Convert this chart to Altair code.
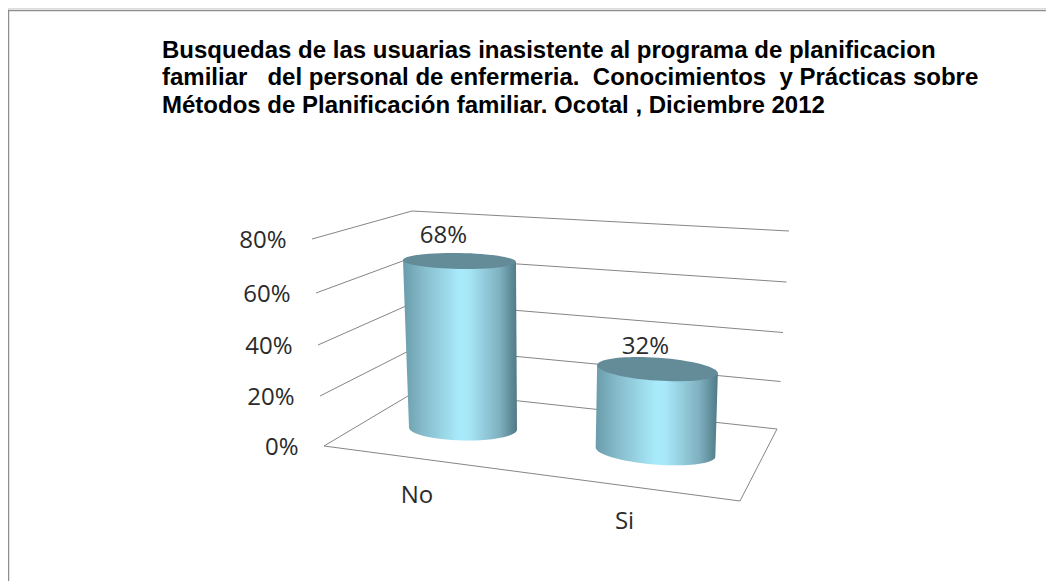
import math
import altair as alt
import pandas as pd

# ---- chart values ----
CATEGORIES = ["No", "Si"]
VALUES = [68, 32]
LEVELS = [0, 20, 40, 60, 80]
TITLE_LINES = [
    "Busquedas de las usuarias inasistente al programa de planificacion",
    "familiar\u00a0\u00a0 del personal de enfermeria.\u00a0 Conocimientos\u00a0 y Prácticas sobre",
    "Métodos de Planificación familiar. Ocotal , Diciembre 2012",
]

# ---- oblique 3-D projection of the chart box, in picture units ----
WALL_FRONT_X = [324, 320, 318, 316, 312]
WALL_FRONT_Y = [446, 396, 345, 293, 239]
WALL_BACK_X = [418, 416.5, 415, 413.5, 412]
WALL_BACK_Y = [390, 347, 302, 257, 211]
BACK_RIGHT_X = [777, 780.5, 783, 786.5, 789]
BACK_RIGHT_Y = [429, 381.5, 332.5, 282, 231]
FLOOR_FRONT_RIGHT = (740, 501)

BASE_X = [463, 655.5]
BASE_Y = [428.5, 452]
LEAN = [-0.021, 0.024]
UNIT_Y = [2.463, 2.59]
BASE_RX = [54, 60]
TOP_RX = [56.5, 60.5]
BASE_RY = [12, 12.5]
TOP_RY = [8, 11.5]
BASE_TILT = [1.0, 4.5]
TOP_TILT = [1.0, 4.0]
LABEL_DX = [-16, -12]
LABEL_DY = [-25, -22.5]
CAT_LABEL_XY = [(417, 495.5), (624.5, 522)]

GRAD = alt.Gradient(
    gradient="linear", x1=0, x2=1, y1=0, y2=0,
    stops=[
        alt.GradientStop(offset=0, color="#6a9cab"),
        alt.GradientStop(offset=0.18, color="#86bccb"),
        alt.GradientStop(offset=0.5, color="#a9ebfc"),
        alt.GradientStop(offset=0.58, color="#a6e6f7"),
        alt.GradientStop(offset=0.85, color="#7fb0bf"),
        alt.GradientStop(offset=1, color="#4f7985"),
    ],
)
K = 0.5523


def rot(x, y, tilt):
    c, s = math.cos(math.radians(tilt)), math.sin(math.radians(tilt))
    return x * c - y * s, x * s + y * c


def fmt(p):
    return f"{p[0]:.4f},{p[1]:.4f}"


def ellipse_path(ratio, tilt):
    """Unit ellipse (half-width 1) flattened by ratio and rotated by tilt degrees."""
    r = ratio
    pts = [(1, 0), (1, K * r), (K, r), (0, r), (-K, r), (-1, K * r),
           (-1, 0), (-1, -K * r), (-K, -r), (0, -r), (K, -r), (1, -K * r), (1, 0)]
    p = [fmt(rot(x, y, tilt)) for x, y in pts]
    d = "M" + p[0]
    for i in range(1, 13, 3):
        d += f" C{p[i]} {p[i + 1]} {p[i + 2]}"
    return d + " Z"


def body_path(i, dx, rise):
    """Cylinder side seen from the front, in units of the base half-width, origin at base centre."""
    R = BASE_RX[i]
    r = BASE_RY[i] / R
    t = BASE_TILT[i]
    low = [(-1, 0), (-1, K * r), (-K, r), (0, r), (K, r), (1, K * r), (1, 0)]
    p = [fmt(rot(x, y, t)) for x, y in low]
    q = TOP_RX[i] / R
    tr = rot(q, 0, TOP_TILT[i])
    tl = rot(-q, 0, TOP_TILT[i])
    top_r = (tr[0] + dx / R, tr[1] - rise / R)
    top_l = (tl[0] + dx / R, tl[1] - rise / R)
    return (f"M{fmt(top_l)} L{p[0]} C{p[1]} {p[2]} {p[3]} C{p[4]} {p[5]} {p[6]} "
            f"L{fmt(top_r)} Z")


X = alt.Scale(domain=[8, 1046], range=[0, 1038], nice=False, zero=False)
Y = alt.Scale(domain=[8, 581], range=[0, 573], nice=False, zero=False)


def xq(f="x"):
    return alt.X(f"{f}:Q", scale=X, axis=None, title=None)


def yq(f="y"):
    return alt.Y(f"{f}:Q", scale=Y, axis=None, title=None)


# frame
frame = pd.DataFrame({"x": [8.5, 8.5, 1046], "y": [581, 10.5, 10.5], "o": [0, 1, 2]})
frame_l = alt.Chart(frame).mark_line(color="#8f8f8f", strokeWidth=1.5).encode(
    x=xq(), y=yq(), order="o:Q")

# grid lines and floor
rows = []
for i, lv in enumerate(LEVELS):
    rows += [
        {"g": lv, "o": 0, "x": WALL_FRONT_X[i], "y": WALL_FRONT_Y[i]},
        {"g": lv, "o": 1, "x": WALL_BACK_X[i], "y": WALL_BACK_Y[i]},
        {"g": lv, "o": 2, "x": BACK_RIGHT_X[i], "y": BACK_RIGHT_Y[i]},
    ]
rows += [
    {"g": 0, "o": 3, "x": FLOOR_FRONT_RIGHT[0], "y": FLOOR_FRONT_RIGHT[1]},
    {"g": 0, "o": 4, "x": WALL_FRONT_X[0], "y": WALL_FRONT_Y[0]},
]
grid = alt.Chart(pd.DataFrame(rows)).mark_line(color="#858585", strokeWidth=1).encode(
    x=xq(), y=yq(), detail="g:N", order="o:Q")

# y tick labels
ticks = pd.DataFrame({
    "t": [f"{v}%" for v in LEVELS],
    "x": [a - 25.5 for a in WALL_FRONT_X],
    "y": [b + 1.5 for b in WALL_FRONT_Y],
})
FONT = dict(font="Open Sans", fontSize=24, color="#2b2b2b")
tick_l = alt.Chart(ticks).mark_text(align="right", baseline="middle", **FONT).encode(
    x=xq(), y=yq(), text="t:N")

# cylinders
bodies, tops, labels = [], [], []
for i, (c, v) in enumerate(zip(CATEGORIES, VALUES)):
    rise = v * UNIT_Y[i]
    top_y = BASE_Y[i] - rise
    dx = rise * LEAN[i]
    top_x = BASE_X[i] + dx
    bodies.append({"x": BASE_X[i], "y": BASE_Y[i], "sz": (2 * BASE_RX[i]) ** 2,
                   "p": body_path(i, dx, rise)})
    tops.append({"x": top_x, "y": top_y, "sz": (2 * TOP_RX[i]) ** 2,
                 "p": ellipse_path(TOP_RY[i] / TOP_RX[i], TOP_TILT[i])})
    labels.append({"t": f"{v}%", "x": top_x + LABEL_DX[i], "y": top_y + LABEL_DY[i]})

body_l = alt.Chart(pd.DataFrame(bodies)).mark_point(
    filled=True, fill=GRAD, opacity=1, strokeWidth=0
).encode(x=xq(), y=yq(), size=alt.Size("sz:Q", scale=None, legend=None),
         shape=alt.Shape("p:N", scale=None, legend=None))
top_l = alt.Chart(pd.DataFrame(tops)).mark_point(
    filled=True, fill="#648b98", opacity=1, strokeWidth=0
).encode(x=xq(), y=yq(), size=alt.Size("sz:Q", scale=None, legend=None),
         shape=alt.Shape("p:N", scale=None, legend=None))
val_l = alt.Chart(pd.DataFrame(labels)).mark_text(align="center", baseline="middle", **FONT).encode(
    x=xq(), y=yq(), text="t:N")
cats = pd.DataFrame({"t": CATEGORIES, "x": [p[0] for p in CAT_LABEL_XY], "y": [p[1] for p in CAT_LABEL_XY]})
cat_l = alt.Chart(cats).mark_text(align="center", baseline="middle", **FONT).encode(
    x=xq(), y=yq(), text="t:N")

chart = (
    alt.layer(frame_l, grid, tick_l, body_l, top_l, val_l, cat_l)
    .properties(
        width=1038,
        height=573,
        padding=0,
        autosize=alt.AutoSizeParams(type="none"),
        title=alt.TitleParams(
            text=TITLE_LINES,
            anchor="start",
            frame="group",
            font="Liberation Sans",
            fontSize=24,
            fontWeight="bold",
            color="#000000",
            lineHeight=27.5,
            baseline="alphabetic",
            dx=154,
            offset=-129,
        ),
    )
    .configure_view(strokeWidth=0)
    .configure(background="#ffffff")
)

chart.save("out.html", embed_options={"renderer": "svg", "actions": False})
